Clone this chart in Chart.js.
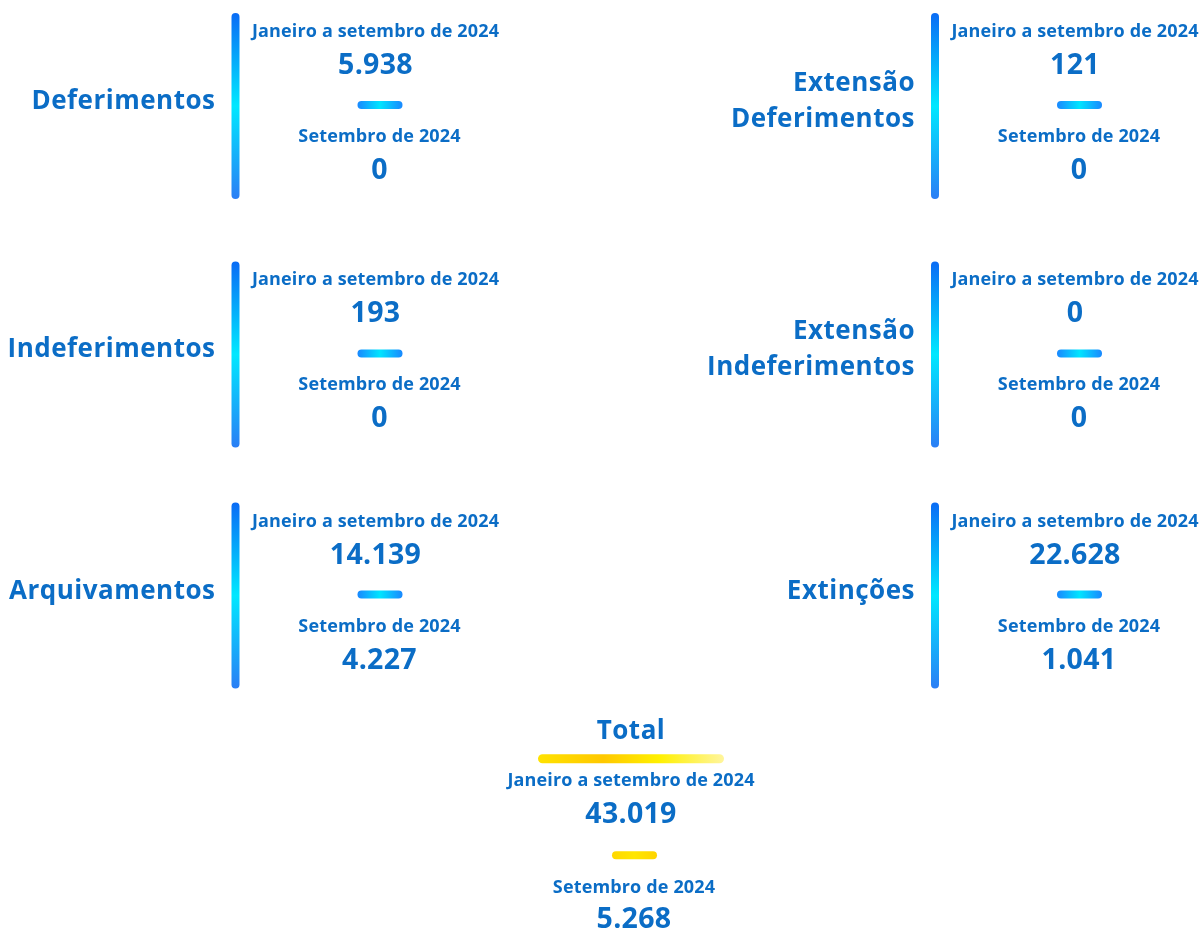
<!DOCTYPE html>
<html lang="pt-BR">
<head>
<meta charset="utf-8">
<title>Janeiro a setembro de 2024</title>
<script src="https://cdn.jsdelivr.net/npm/chart.js@4.4.1/dist/chart.umd.min.js"></script>
<style>
  html, body { margin: 0; padding: 0; background: #ffffff; }
  #wrap { width: 1201px; height: 932px; }
</style>
</head>
<body>
<div id="wrap"><canvas id="panelChart" width="1201" height="932"></canvas></div>
<script>
// categories (one panel each, multi-line labels as arrays)
const categories = [
  ["Deferimentos"],
  ["Extensão", "Deferimentos"],
  ["Indeferimentos"],
  ["Extensão", "Indeferimentos"],
  ["Arquivamentos"],
  ["Extinções"],
];
const periodLabels = ["Janeiro a setembro de 2024", "Setembro de 2024"];
const ytdValues = [5938, 121, 193, 0, 14139, 22628];
const septValues = [0, 0, 0, 0, 4227, 1041];
const totalLabel = "Total";

const sum = (arr) => arr.reduce((a, b) => a + b, 0);
const fmt = (v) => String(v).replace(/\B(?=(\d{3})+(?!\d))/g, ".");

const TEXT = "#0b6dc6";
const FAMILY = "'Open Sans', Lato, sans-serif";
const labelFont = { font: `700 26px ${FAMILY}`, spacing: "0.5px" };
const periodFont = { font: `700 18px ${FAMILY}`, spacing: "0.15px" };
const valueFont = { font: `700 28.5px ${FAMILY}`, spacing: "0.3px" };

// grid layout: two columns, three rows (slightly uneven), total below
const rowPos = [0, 1.015, 2];
const points = categories.map((c, i) => ({
  x: i % 2,
  y: rowPos[Math.floor(i / 2)],
  ytd: ytdValues[i],
  sept: septValues[i],
}));
const totalPoint = { x: 0.5654, y: 3, ytd: sum(ytdValues), sept: sum(septValues) };

function pill(ctx, x, y, w, h, fill) {
  ctx.beginPath();
  ctx.roundRect(x, y, w, h, Math.min(w, h) / 2);
  ctx.fillStyle = fill;
  ctx.fill();
}

function text(ctx, str, x, y, style, align) {
  ctx.font = style.font;
  ctx.letterSpacing = style.spacing;
  ctx.textAlign = align || "center";
  ctx.textBaseline = "alphabetic";
  ctx.fillStyle = TEXT;
  ctx.fillText(str, x, y);
}

const panelPlugin = {
  id: "panels",
  afterDatasetsDraw(chart) {
    const ctx = chart.ctx;
    const meta = chart.getDatasetMeta(0);
    const data = chart.data.datasets[0].data;
    ctx.save();

    meta.data.forEach((el, i) => {
      const { x, y } = el.getProps(["x", "y"], true);
      const d = data[i];
      const cx = x + 140;
      const bx = cx + 4;

      // vertical gradient bar
      const g = ctx.createLinearGradient(0, y - 93, 0, y + 93);
      g.addColorStop(0, "#0a6cf5");
      g.addColorStop(0.5, "#00e8ff");
      g.addColorStop(1, "#2a7ef5");
      pill(ctx, x - 4, y - 93, 8, 186, g);

      // category label, right aligned
      const lines = chart.data.labels[i];
      lines.forEach((ln, k) => {
        text(ctx, ln, x - 20, y + 3 + (k - (lines.length - 1) / 2) * 36, labelFont, "right");
      });

      text(ctx, periodLabels[0], cx, y - 69, periodFont);
      text(ctx, fmt(d.ytd), cx, y - 32, valueFont);

      const dg = ctx.createLinearGradient(bx - 22, 0, bx + 23, 0);
      dg.addColorStop(0, "#1a88ff");
      dg.addColorStop(0.5, "#00e5ff");
      dg.addColorStop(1, "#1a88ff");
      pill(ctx, bx - 22, y - 5, 45, 8, dg);

      text(ctx, periodLabels[1], bx, y + 36, periodFont);
      text(ctx, fmt(d.sept), bx, y + 73, valueFont);
    });

    // total block
    const tMeta = chart.getDatasetMeta(1).data[0];
    const t = chart.data.datasets[1].data[0];
    const { x: tx, y: ty } = tMeta.getProps(["x", "y"], true);
    text(ctx, totalLabel, tx, ty - 101, labelFont);
    const yg = ctx.createLinearGradient(tx - 93, 0, tx + 93, 0);
    yg.addColorStop(0, "#ffe200");
    yg.addColorStop(0.35, "#ffc800");
    yg.addColorStop(0.65, "#fff000");
    yg.addColorStop(1, "#fff59d");
    pill(ctx, tx - 93, ty - 86, 186, 9, yg);
    text(ctx, periodLabels[0], tx, ty - 54, periodFont);
    text(ctx, fmt(t.ytd), tx, ty - 17, valueFont);
    const sg = ctx.createLinearGradient(tx - 19, 0, tx + 26, 0);
    sg.addColorStop(0, "#ffd800");
    sg.addColorStop(0.5, "#ffe600");
    sg.addColorStop(1, "#ffd400");
    pill(ctx, tx - 19, ty + 11, 45, 8, sg);
    text(ctx, periodLabels[1], tx + 3, ty + 53, periodFont);
    text(ctx, fmt(t.sept), tx + 3, ty + 88, valueFont);

    ctx.restore();
  },
};

const unitX = 699.5;
const unitY = 244.75;
new Chart(document.getElementById("panelChart"), {
  type: "scatter",
  data: {
    labels: categories,
    datasets: [
      { data: points, pointRadius: 0, pointHoverRadius: 0 },
      { data: [totalPoint], pointRadius: 0, pointHoverRadius: 0 },
    ],
  },
  options: {
    responsive: false,
    devicePixelRatio: 1,
    animation: false,
    layout: { padding: 0 },
    events: [],
    plugins: { legend: { display: false }, tooltip: { enabled: false } },
    scales: {
      x: { type: "linear", display: false, min: -235.5 / unitX, max: (1201 - 235.5) / unitX },
      y: { type: "linear", display: false, reverse: true, min: -106 / unitY, max: (932 - 106) / unitY },
    },
  },
  plugins: [panelPlugin],
});
</script>
</body>
</html>
